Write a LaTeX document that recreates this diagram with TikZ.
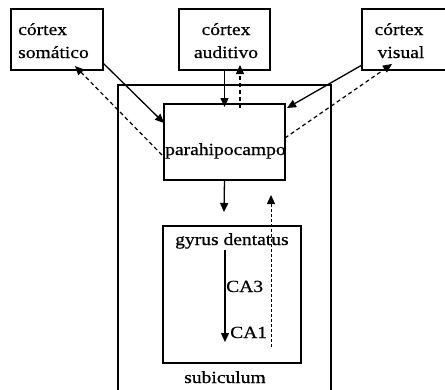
\documentclass[tikz,border=0pt]{standalone}
\usepackage{fontspec}
\setmainfont[FakeStretch=1.15,FakeBold=0.6]{Liberation Serif}
\usetikzlibrary{arrows.meta,calc}
\begin{document}
\begin{tikzpicture}[x=1pt,y=-1pt,
  box/.style={draw,line width=1.1pt,inner sep=0pt,outer sep=0pt},
  txt/.style={inner sep=0pt,font=\fontsize{17}{20}\selectfont},
  arr/.style={line width=1.3pt,-{Triangle[length=9pt,width=8pt]}},
  darr/.style={line width=1.2pt,dash pattern=on 4pt off 3pt,-{Triangle[length=9pt,width=8pt]}},
  farr/.style={line width=1pt,dash pattern=on 3pt off 2pt,-{Triangle[length=9pt,width=8pt]}}]
\useasboundingbox (0,0) rectangle (445,389);
% boxes
\node[box,minimum width=92pt,minimum height=61pt] (som) at (57,39.5) {};
\node[box,minimum width=91pt,minimum height=61pt] (aud) at (224.5,39.5) {};
\node[box,minimum width=86pt,minimum height=61pt] (vis) at (405,39.5) {};
\node[box,minimum width=213pt,minimum height=320pt] (out) at (224.5,245) {};
\node[box,minimum width=121pt,minimum height=76pt] (para) at (224.5,142) {};
\node[box,minimum width=138pt,minimum height=137pt] (gyr) at (232,294.5) {};
% texts
\node[txt,anchor=base west] (t1) at (18,35) {córtex};
\node[txt,anchor=base west] (t2) at (18,58) {somático};
\node[txt,anchor=base] (t3) at (226,35) {córtex};
\node[txt,anchor=base] (t4) at (226,58) {auditivo};
\node[txt,anchor=base] (t5) at (399,35) {córtex};
\node[txt,anchor=base] (t6) at (401,58) {visual};
\node[txt,anchor=base west] (t7) at (165,155) {parahipocampo};
\node[txt,anchor=base west] (t8) at (175,245) {gyrus dentatus};
\node[txt,anchor=base west] (ca3) at (226,292) {CA3};
\node[txt,anchor=base west] (ca1) at (230,338) {CA1};
\node[txt,anchor=base] (t9) at (225,383) {subiculum};
% connectors
\draw[arr] ($(som.south east)+(0,-7)$) -- ($(para.north west)+(0,19)$);
\draw[darr] ($(para.west)+(-2,13)$) -- ($(som.south)+(18,-4)$);
\draw[arr] (aud.south) -- ($(para.north)+(0,3)$);
\draw[darr] ($(para.north)+(15.5,4)$) -- ($(aud.south)+(15.5,-5)$);
\draw[arr] ($(vis.south west)+(0,-5)$) -- ($(para.north east)+(2,4)$);
\draw[darr] ($(para.east)+(0,-4)$) -- ($(vis.south)+(-13,-6)$);
\draw[arr] (para.south) -- ($(gyr.north)+(-8,-14)$);
\draw[farr] ($(gyr.south)+(39,-16)$) -- ($(para.south)+(46.5,15)$);
\draw[arr] ($(t8.base west)+(50,5)$) -- ($(ca1.base west)+(-5,4)$);
\end{tikzpicture}
\end{document}
